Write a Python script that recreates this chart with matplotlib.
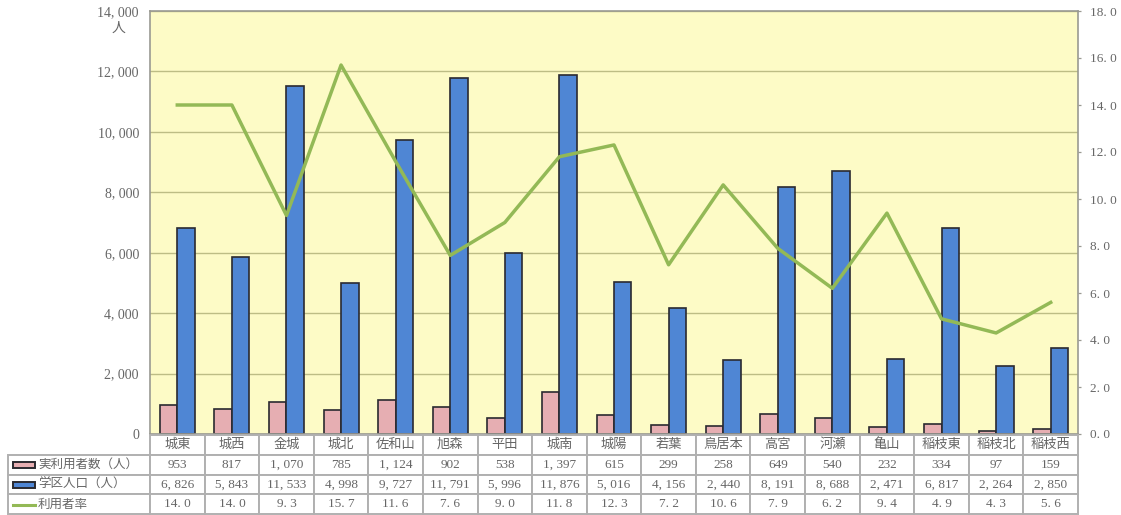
#!/usr/bin/env python

import numpy as np
import matplotlib
matplotlib.use('Agg')
import matplotlib.pyplot as plt
from matplotlib.patches import Rectangle
from matplotlib.lines import Line2D

plt.rcParams['font.family'] = ['Liberation Serif', 'Noto Sans CJK JP', 'DejaVu Sans']

# ----------------------------------------------------------------------
# Data
# ----------------------------------------------------------------------

districts = ['城東', '城西', '金城', '城北', '佐和山', '旭森', '平田', '城南', '城陽',
             '若葉', '鳥居本', '高宮', '河瀬', '亀山', '稲枝東', '稲枝北', '稲枝西']
users = [953, 817, 1070, 785, 1124, 902, 538, 1397, 615,
         299, 258, 649, 540, 232, 334, 97, 159]
population = [6826, 5843, 11533, 4998, 9727, 11791, 5996, 11876, 5016,
              4156, 2440, 8191, 8688, 2471, 6817, 2264, 2850]
rate = [14.0, 14.0, 9.3, 15.7, 11.6, 7.6, 9.0, 11.8, 12.3,
        7.2, 10.6, 7.9, 6.2, 9.4, 4.9, 4.3, 5.6]
row_names = ['実利用者数（人）', '学区人口（人）', '利用者率']

W, H = 1121.0, 515.0
text_col = '#666666'
grid_col = '#bdbd85'
line_col = '#93b956'
pink = '#e6aeb2'
blue = '#4f86d4'
edge_col = '#2a2a30'
table_col = '#b0b0b0'


def fx(px):
    return px / W


def fy(py):
    return 1.0 - py / H


def comma(v):
    return f'{v:,}'.replace(',', ', ')


# ----------------------------------------------------------------------
# Main code
# ----------------------------------------------------------------------

left, right, top, bottom = 150, 1078, 11, 434
tab_left = 8
label_right = 150
rows_y = [435, 454, 475, 495, 514]

fig = plt.figure(figsize=(W / 100, H / 100), dpi=100)
ax = fig.add_axes([fx(left), fy(bottom), fx(right - left), (bottom - top) / H])
ax.set_facecolor('#fdfbc6')

x = np.arange(len(districts))
bar_w = 0.32
ax.set_axisbelow(True)
ax.bar(x - bar_w / 2, users, bar_w, color=pink, edgecolor=edge_col, linewidth=1.2, zorder=2)
ax.bar(x + bar_w / 2, population, bar_w, color=blue, edgecolor=edge_col, linewidth=1.2, zorder=2)
ax.set_xlim(-0.5, len(districts) - 0.5)
ax.set_ylim(0, 14000)
ax.set_yticks(np.arange(0, 14001, 2000))
ax.set_yticklabels([comma(int(v)) for v in np.arange(0, 14001, 2000)],
                   fontsize=10, color=text_col)
ax.yaxis.grid(True, color=grid_col, linewidth=1.0)
ax.set_xticks([])
ax.tick_params(axis='y', length=0, pad=8)
for s in ax.spines.values():
    s.set_color('#9a9a92')
    s.set_linewidth(1.2)

ax2 = ax.twinx()
ax2.plot(x, rate, color=line_col, linewidth=2.5, zorder=5)
ax2.set_ylim(0, 18)
ax2.set_yticks(np.arange(0, 18.1, 2))
ax2.set_yticklabels([f'{v:.1f}'.replace('.', '. ') for v in np.arange(0, 18.1, 2)],
                    fontsize=9.5, color=text_col)
ax2.tick_params(axis='y', length=2.5, width=0.9, color='#9a9a92', pad=6)
for s in ax2.spines.values():
    s.set_visible(False)

fig.text(fx(119), fy(28), '人', fontsize=10, color=text_col, ha='center', va='center')

# table under the plot, drawn with the library's table
cell_text = [districts,
             [comma(v) for v in users],
             [comma(v) for v in population],
             [f'{v:.1f}'.replace('.', '. ') for v in rate]]
tab_ax = fig.add_axes([fx(tab_left), fy(rows_y[-1]), fx(right - tab_left),
                       (rows_y[-1] - rows_y[0]) / H])
tab_ax.axis('off')
col_w = (right - label_right) / len(districts) / (right - tab_left)
label_w = (label_right - tab_left) / (right - tab_left)
tab = tab_ax.table(cellText=[[''] + r for r in cell_text],
                   colWidths=[label_w] + [col_w] * len(districts),
                   bbox=[0, 0, 1, 1], cellLoc='center')
tab.auto_set_font_size(False)
for (r, c), cell in tab.get_celld().items():
    cell.set_edgecolor(table_col)
    cell.set_linewidth(1.4)
    cell.get_text().set_fontsize(9.5)
    cell.get_text().set_color(text_col)
tab[(0, 0)].set_visible(False)

# row labels and legend keys
for i, name in enumerate(row_names):
    yc = (rows_y[i + 1] + rows_y[i + 2]) / 2
    fig.text(fx(38), fy(yc), name, fontsize=9, color=text_col, va='center', ha='left')
    if i < 2:
        fig.add_artist(Rectangle((fx(13), fy(yc + 3)), 22 / W, 6 / H,
                                 facecolor=[pink, blue][i], edgecolor=edge_col,
                                 linewidth=1.4, transform=fig.transFigure))
    else:
        fig.add_artist(Line2D([fx(13), fx(35)], [fy(yc), fy(yc)], color=line_col,
                              linewidth=2.2, transform=fig.transFigure))

plotfile = 'out.png'
print('writing : ', plotfile)
fig.savefig(plotfile, dpi=100)
plt.close()
